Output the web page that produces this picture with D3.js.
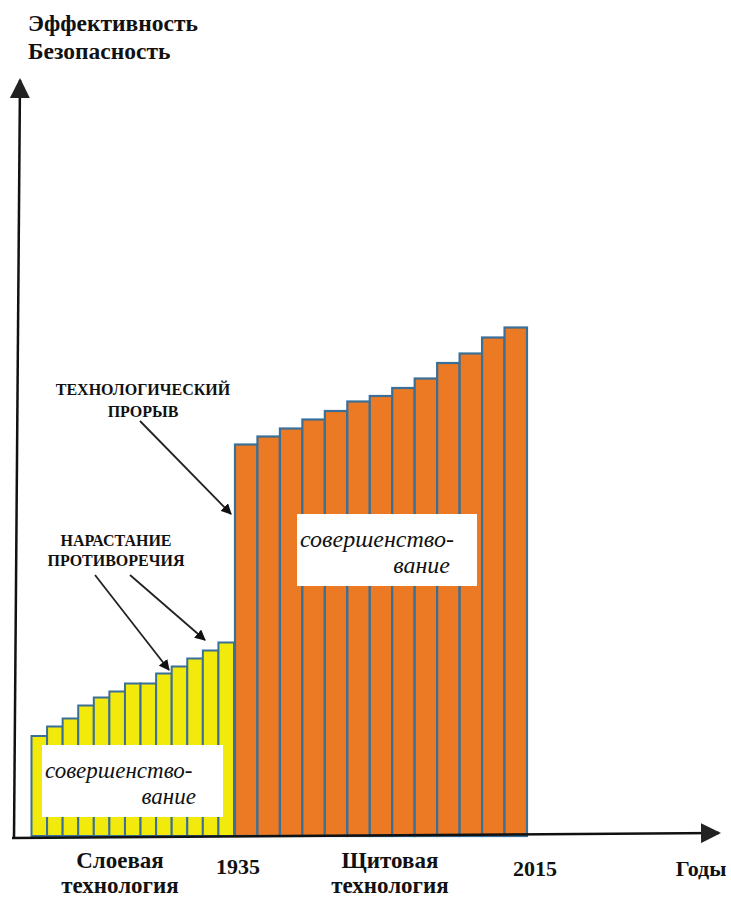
<!DOCTYPE html>
<html>
<head>
<meta charset="utf-8">
<script src="https://cdn.jsdelivr.net/npm/d3@7"></script>
<style>
  body { margin: 0; background: #fff; }
</style>
</head>
<body>
<div id="chart"></div>
<script>
// Data: relative effectiveness for each step
var layerSteps = d3.range(1, 14);
var layerValues = [20, 21.9, 23.5, 26.1, 27.7, 28.9, 30.5, 30.5, 32.5, 33.9, 35.5, 37.1, 38.7];
var shieldSteps = d3.range(1, 14);
var shieldValues = [78.3, 79.9, 81.5, 83.3, 85, 86.9, 88, 89.6, 91.5, 94.6, 96.5, 99.7, 101.7];
var yearLabels = ["1935", "2015"];

var svgWidth = 731;
var svgHeight = 899;
var baseY = 836;
var serif = "Liberation Serif";

var svg = d3.select("#chart").append("svg").attr("width", svgWidth).attr("height", svgHeight);

var defs = svg.append("defs");
defs.append("marker").attr("id", "arrS").attr("viewBox", "0 0 10 10")
  .attr("refX", 9).attr("refY", 5).attr("markerWidth", 8).attr("markerHeight", 8)
  .attr("markerUnits", "strokeWidth").attr("orient", "auto")
  .append("path").attr("d", "M0,0 L10,5 L0,10 z").attr("fill", "#222");
defs.append("marker").attr("id", "arrA").attr("viewBox", "0 0 10 10")
  .attr("refX", 9).attr("refY", 5).attr("markerWidth", 6).attr("markerHeight", 6)
  .attr("markerUnits", "strokeWidth").attr("orient", "auto")
  .append("path").attr("d", "M0,0 L10,5 L0,10 z").attr("fill", "#111");

// scales
var yScale = d3.scaleLinear().domain([0, 150]).range([baseY, baseY - 750]);
var xLayer = d3.scaleBand().domain(layerSteps).range([31.5, 234]).padding(0);
var xShield = d3.scaleBand().domain(shieldSteps).range([235, 527]).padding(0);

// bars
svg.append("g").selectAll("rect").data(layerValues).enter().append("rect")
  .attr("x", (d, i) => xLayer(layerSteps[i]))
  .attr("y", d => yScale(d))
  .attr("width", xLayer.bandwidth())
  .attr("height", d => baseY - yScale(d))
  .attr("fill", "#f2ea0a")
  .attr("stroke", "#3a6f98")
  .attr("stroke-width", 2);

svg.append("g").selectAll("rect").data(shieldValues).enter().append("rect")
  .attr("x", (d, i) => xShield(shieldSteps[i]))
  .attr("y", d => yScale(d))
  .attr("width", xShield.bandwidth())
  .attr("height", d => baseY - yScale(d))
  .attr("fill", "#ec7923")
  .attr("stroke", "#3a6f98")
  .attr("stroke-width", 2.2);

// white boxes with text
function noteBox(x, y, w, h, fs) {
  svg.append("rect").attr("x", x).attr("y", y).attr("width", w).attr("height", h).attr("fill", "#fff");
  svg.append("text").attr("x", x + 3).attr("y", y + 33)
    .attr("font-family", serif).attr("font-style", "italic").attr("font-size", fs).attr("fill", "#111")
    .text("совершенство-");
  svg.append("text").attr("x", x + w - 27).attr("y", y + 59).attr("text-anchor", "end")
    .attr("font-family", serif).attr("font-style", "italic").attr("font-size", fs).attr("fill", "#111")
    .text("вание");
}
noteBox(42, 745, 181, 72, 23);
noteBox(297, 514, 180, 72, 24);

// axes
svg.append("line").attr("x1", 14).attr("y1", 838).attr("x2", 20).attr("y2", 80)
  .attr("stroke", "#111").attr("stroke-width", 2.5).attr("marker-end", "url(#arrS)");
svg.append("line").attr("x1", 12).attr("y1", 838).attr("x2", 719).attr("y2", 833)
  .attr("stroke", "#111").attr("stroke-width", 2.5).attr("marker-end", "url(#arrS)");

// axis titles
var bold = (t, fs) => t.attr("font-family", serif).attr("font-weight", "bold").attr("font-size", fs || 23).attr("fill", "#111");
bold(svg.append("text").attr("x", 28).attr("y", 31).text("Эффективность"), 23.5);
bold(svg.append("text").attr("x", 28).attr("y", 59).text("Безопасность"), 23.5);

bold(svg.append("text").attr("x", 120).attr("y", 868).attr("text-anchor", "middle").text("Слоевая"));
bold(svg.append("text").attr("x", 120).attr("y", 893).attr("text-anchor", "middle").text("технология"));
bold(svg.append("text").attr("x", 390).attr("y", 868).attr("text-anchor", "middle").text("Щитовая"));
bold(svg.append("text").attr("x", 390).attr("y", 893).attr("text-anchor", "middle").text("технология"));
bold(svg.append("text").attr("x", 238).attr("y", 874).attr("text-anchor", "middle").text(yearLabels[0]), 22);
bold(svg.append("text").attr("x", 535).attr("y", 876).attr("text-anchor", "middle").text(yearLabels[1]), 22);
bold(svg.append("text").attr("x", 701).attr("y", 876).attr("text-anchor", "middle").text("Годы"), 22);

// annotations
var note = t => t.attr("font-family", serif).attr("font-weight", "bold").attr("font-size", 16).attr("fill", "#111").attr("text-anchor", "middle");
note(svg.append("text").attr("x", 143).attr("y", 395).text("ТЕХНОЛОГИЧЕСКИЙ"));
note(svg.append("text").attr("x", 143).attr("y", 417).text("ПРОРЫВ"));
note(svg.append("text").attr("x", 116).attr("y", 546).text("НАРАСТАНИЕ"));
note(svg.append("text").attr("x", 116).attr("y", 566).text("ПРОТИВОРЕЧИЯ"));

var arrows = [
  [140, 421, 231, 514],
  [95, 575, 169, 670],
  [130, 575, 205, 640]
];
svg.append("g").selectAll("line").data(arrows).enter().append("line")
  .attr("x1", d => d[0]).attr("y1", d => d[1]).attr("x2", d => d[2]).attr("y2", d => d[3])
  .attr("stroke", "#222").attr("stroke-width", 1.8).attr("marker-end", "url(#arrA)");
</script>
</body>
</html>
